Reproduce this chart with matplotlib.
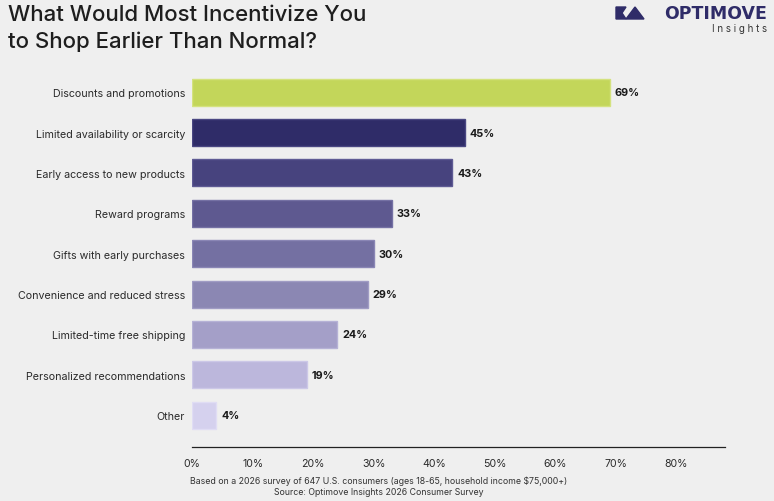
import matplotlib
matplotlib.use("Agg")
import matplotlib.pyplot as plt
from matplotlib.patches import Polygon

plt.rcParams['font.family'] = ['Inter', 'DejaVu Sans']

categories = ["Discounts and promotions", "Limited availability or scarcity",
              "Early access to new products", "Reward programs",
              "Gifts with early purchases", "Convenience and reduced stress",
              "Limited-time free shipping", "Personalized recommendations", "Other"]
values = [69, 45, 43, 33, 30, 29, 24, 19, 4]
colors = ["#c3d65a", "#2f2c68", "#47437e", "#5e5990", "#7470a2",
          "#8b87b3", "#a49fc8", "#bcb7dc", "#d5d1ee"]
edges = ["#d4e27f", "#4a4782", "#5f5b94", "#7571a4", "#8a86b5",
         "#a09cc4", "#b6b2d6", "#ccc8e7", "#e0ddf4"]
xticks = [0, 10, 20, 30, 40, 50, 60, 70, 80]
xticklabels = ["0%", "10%", "20%", "30%", "40%", "50%", "60%", "70%", "80%"]

BG = "#efefef"
fig = plt.figure(figsize=(7.74, 5.02), dpi=100, facecolor=BG)
ax = fig.add_axes([192/774, (502-448)/502, (725-192)/774, (448-69)/502], facecolor=BG)

ypos = list(range(len(categories)))
ax.barh(ypos, values, height=0.67, color=colors, edgecolor=edges, linewidth=1.0)
for y, v in zip(ypos, values):
    ax.text(v + 0.8, y, f"{v}%", va="center", ha="left", fontsize=7.8,
            fontweight="bold", color="#1a1a1a")

ax.set_xlim(0, 88)
ax.set_ylim(8.79, -0.6)
ax.set_yticks(ypos)
ax.set_yticklabels(categories, fontsize=7.7, color="#2a2a2a")
ax.set_xticks(xticks)
ax.set_xticklabels(xticklabels, fontsize=7.6, color="#2a2a2a")
ax.tick_params(axis="both", length=0)
ax.tick_params(axis="y", pad=5)
ax.tick_params(axis="x", pad=8)
for s in ["top", "right", "left"]:
    ax.spines[s].set_visible(False)
ax.spines["bottom"].set_color("#222222")
ax.spines["bottom"].set_linewidth(0.9)

# Title
fig.text(8/774, 1 - 15/502, "What Would Most Incentivize You", fontsize=16,
         color="#1e1e1e", va="center", ha="left", fontweight="medium")
fig.text(8/774, 1 - 42/502, "to Shop Earlier Than Normal?", fontsize=16,
         color="#1e1e1e", va="center", ha="left", fontweight="medium")

# Logo
navy = "#2f2c68"
def fp(x, y):
    return (x/774, 1 - y/502)
fig.patches.append(Polygon([fp(616, 8), fp(626, 8), fp(622, 14), fp(626, 20), fp(616, 20)],
                           closed=True, transform=fig.transFigure, color=navy))
fig.patches.append(Polygon([fp(626, 20), fp(635, 8), fp(644, 20)],
                           closed=True, transform=fig.transFigure, color=navy))
fig.text(767/774, 1 - 14/502, "OPTIMOVE", fontsize=12.5, fontweight="bold",
         color=navy, ha="right", va="center", family="DejaVu Sans")
fig.text(767/774, 1 - 29/502, "I n s i g h t s", fontsize=7, color="#333333",
         ha="right", va="center")

# Footnotes
fig.text(379/774, 1 - 481/502,
         "Based on a 2026 survey of 647 U.S. consumers (ages 18-65, household income $75,000+)",
         fontsize=6.3, color="#333333", ha="center", va="center")
fig.text(379/774, 1 - 493/502, "Source: Optimove Insights 2026 Consumer Survey",
         fontsize=6.3, color="#333333", ha="center", va="center")

fig.savefig("out.png", dpi=100, facecolor=BG)
